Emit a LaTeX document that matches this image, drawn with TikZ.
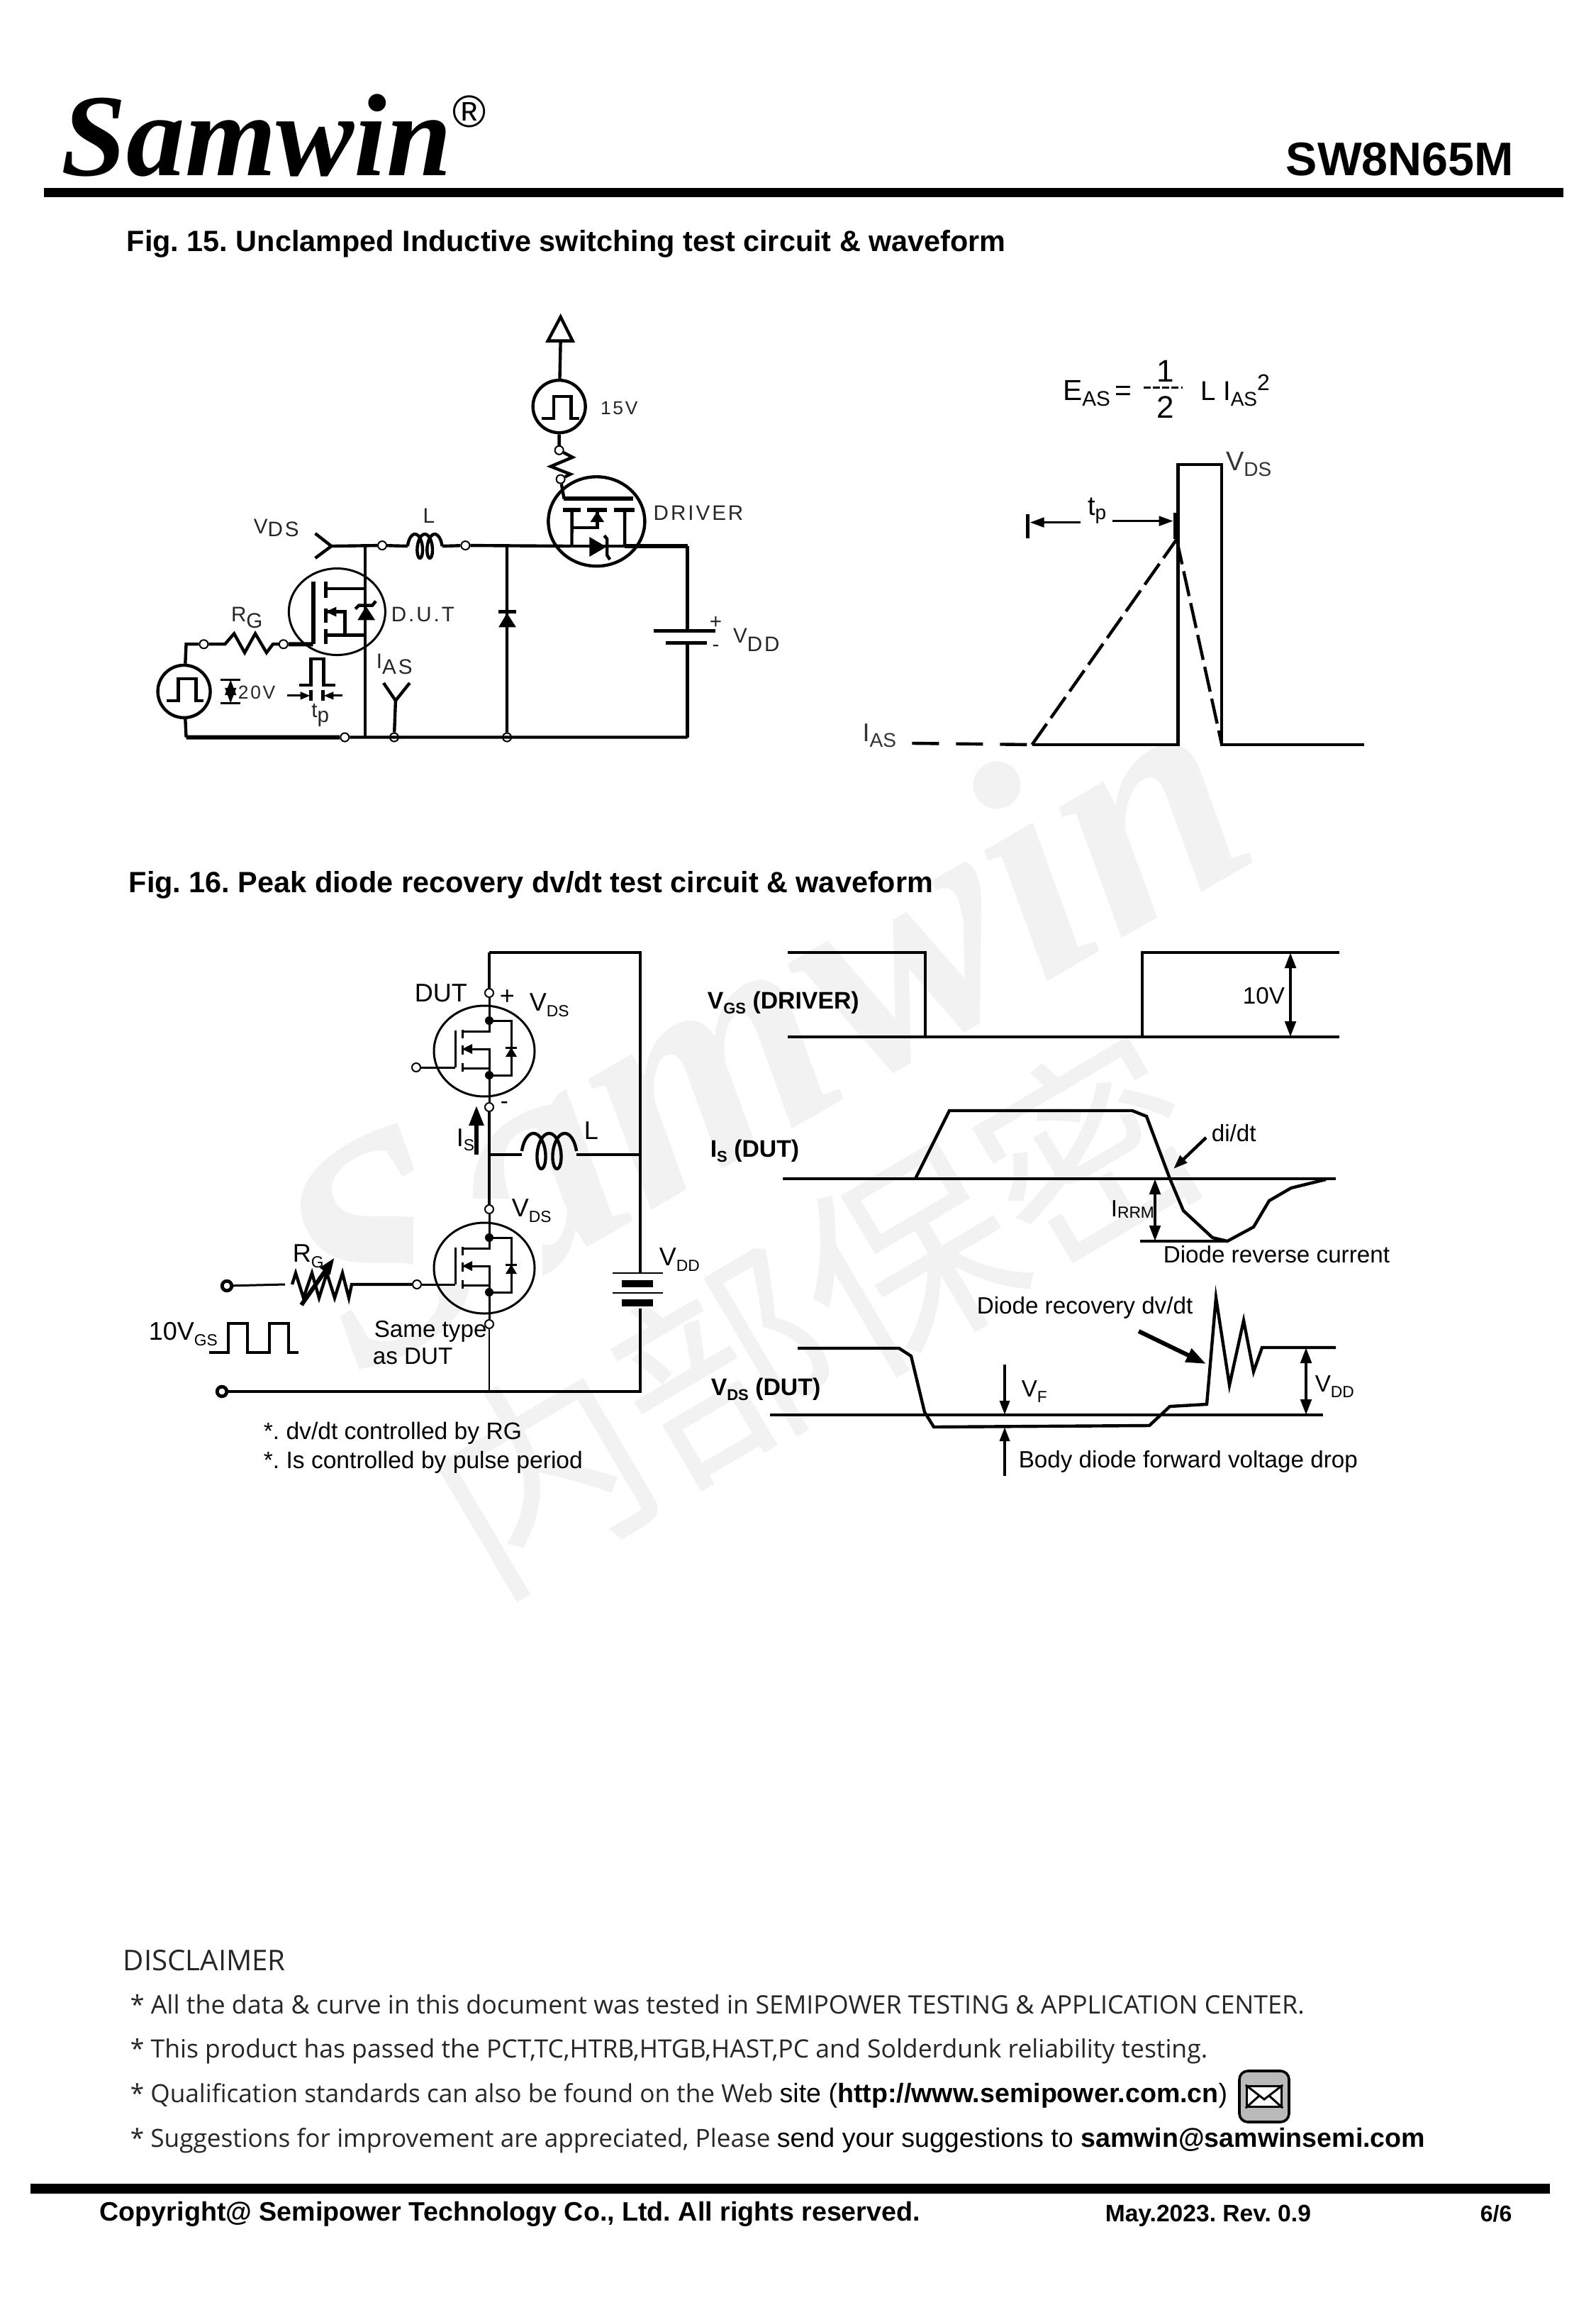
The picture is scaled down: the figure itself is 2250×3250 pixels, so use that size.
\documentclass[tikz,border=0pt]{standalone}
\usepackage{fontspec}
\setmainfont{Liberation Sans}
\newfontfamily\logofont{Liberation Serif}
\newfontfamily\discfont{Open Sans}
\newfontfamily\cjkfont{Noto Sans CJK SC}
\newfontfamily\widefont[LetterSpace=10]{Liberation Sans}
\usetikzlibrary{shapes.geometric, arrows.meta}
\frenchspacing
\newcommand{\fs}[1]{\fontsize{#1}{#1}\selectfont}
\newcommand{\vsub}[4]{#1{\fs{#2}\raisebox{-#3}{#4}}}
\tikzset{
    wire/.style={line width=1.1pt},
    thinwire/.style={line width=.75pt},
    heavywire/.style={line width=1.5pt},
    term/.style={circle, draw, fill=white, line width=.5pt, inner sep=0pt, minimum size=3pt},
    termbig/.style={circle, draw, fill=white, line width=1.2pt, inner sep=0pt, minimum size=3.4pt},
    txt/.style={anchor=base west, inner sep=0pt, font=\fs{8.3}},
    boldtxt/.style={anchor=base west, inner sep=0pt, font=\bfseries\fs{8.45}},
    cirtxt/.style={anchor=base west, inner sep=0pt, font=\widefont\fs{7.4}, text=black!85},
    disc/.style={anchor=base west, inner sep=0pt, text=black!85},
    tip/.style={-{Triangle[length=5pt,width=3.4pt]}, wire},
    bothtip/.style={{Triangle[length=5.5pt,width=3.8pt]}-{Triangle[length=5.5pt,width=3.8pt]}, wire},
    bigtip/.style={-{Triangle[length=7pt,width=5pt]}, line width=1.4pt},
    smalltip/.style={-{Triangle[length=3.5pt,width=2.6pt]}, thinwire},
}
\begin{document}
\begin{tikzpicture}[x=.25pt, y=-.25pt]
\useasboundingbox (0,0) rectangle (2250,3250);
\fill[white] (0,0) rectangle (2250,3250);

\node (wmlogo) [anchor=base west, inner sep=0pt, rotate=30, text=black!5, font=\logofont\bfseries\itshape\fs{111}] at (505,1945) {Samwin};
\node (wmcjk) [inner sep=0pt, rotate=30.5, text=black!5, font=\cjkfont\fs{75}] at (1150,1850) {内部保密};
\fill[white] (583,1690) rectangle (765,1810);

\node (logo) [anchor=base west, inner sep=0pt, font=\logofont\bfseries\itshape\fs{41.3}] at (86,248) {Samwin};
\node (regmark) [anchor=base west, inner sep=0pt, font=\fs{16}] at (638,180) {®};
\node (partno) [anchor=base west, inner sep=0pt, font=\bfseries\fs{16.6}] at (1813,248) {SW8N65M};
\fill (62,265) rectangle (2205,278);
\node (figa) [anchor=base west, inner sep=0pt, font=\bfseries\fs{10.35}] at (178,355) {Fig. 15. Unclamped Inductive switching test circuit \& waveform};
\node (figb) [anchor=base west, inner sep=0pt, font=\bfseries\fs{10.35}] at (181,1258) {Fig. 16. Peak diode recovery dv/dt test circuit \& waveform};

\begin{scope}[shift={(1,2.3)}, scale=.9945]
\coordinate (vin) at (469,772);
\coordinate (ja) at (517,772);
\coordinate (jd) at (718,772);
\coordinate (jr) at (974,772);
\coordinate (jsrc) at (810,772);
\coordinate (jdrn) at (885,772);
\coordinate (cla) at (577,772);
\coordinate (clb) at (626,772);
\node (ta) [term] at (541,771) {};
\node (tb) [term] at (659,771) {};
\node (tc) [term] at (288,911) {};
\node (td) [term] at (401,911) {};
\node (te) [term] at (488,1043) {};
\node (tf) [term] at (558,1043) {};
\node (tg) [term] at (718,1043) {};
\node (th) [term] at (792,636) {};
\node (ti) [term] at (794,677) {};
\coordinate (jb) at (517,1043);
\coordinate (cbl) at (263,1043);
\coordinate (cbr) at (974,1043);
\coordinate (cgl) at (263,911);
\coordinate (batp) at (974,892);
\coordinate (batn) at (974,909);

\node (srca) [circle, draw, wire, minimum size=18.5pt, inner sep=0pt] at (792,574) {};
\node (srcb) [circle, draw, wire, minimum size=18.5pt, inner sep=0pt] at (260,978) {};
\node (driver) [ellipse, draw, wire, minimum width=34pt, minimum height=31.5pt, inner sep=0pt] at (845,737) {};
\node (dut) [ellipse, draw, thinwire, minimum width=34pt, minimum height=30.5pt, inner sep=0pt] at (477,865) {};

\draw [wire] (vin) -- (ta) -- (cla);
\draw [wire] (clb) -- (tb) -- (jsrc);
\draw [heavywire] (jdrn) -- (jr);
\draw [wire] (jsrc) -- (jdrn);
\draw [wire] (jr) -- (batp);
\draw [wire] (batn) -- (cbr);
\draw [wire] (jd) -- (tg);
\draw [wire] (ja) -- (jb);
\draw [heavywire] (cbl) -- (te);
\draw [wire] (te) -- (cbr);
\draw [wire] (cbl) -- (srcb);
\draw [wire] (srcb) -- (cgl) -- (tc);
\draw [wire] (446,754) -- (vin) -- (446,789);
\draw [wire] plot[domain=-90:810, samples=90, smooth, variable=\t] ({587.5+\t/360*14+7*sin(\t)}, {772-17*cos(\t)});
\draw [wire] (tc) -- (318,911) -- (331,896) -- (346,923) -- (361,896) -- (377,923) -- (386,911) -- (td);
\draw [heavywire] (td) -- (443,911);
\draw [wire] (th) -- (811,646) -- (780,659) -- (808,670) -- (ti);
\draw [wire] (srca) -- (th);
\draw [wire] (794,481) -- (srca);
\draw [wire] (ti) -- (799,705);
\draw [wire, fill=white] (794,447) -- (811,481) -- (776,481) -- cycle;

\foreach \cx/\cy in {792/591, 260/991} {
    \draw [wire] (\cx-25,\cy) -- (\cx-8,\cy) -- (\cx-8,\cy-31) -- (\cx+17,\cy-31) -- (\cx+17,\cy) -- (\cx+28,\cy);
}

\draw [heavywire] (798,705) -- (897,705);
\draw [heavywire] (797,721) -- (823,721) (832,721) -- (860,721) (870,721) -- (899,721);
\draw [wire] (jsrc) -- (810,721) (jdrn) -- (885,721);
\draw [wire] (810,746) -- (846,746) -- (846,721);
\fill (846,723) -- (856,738) -- (836,738) -- cycle;
\fill (835,759) -- (835,787) -- (859,773) -- cycle;
\draw [wire] (856,757) -- (860,762) -- (860,785) -- (864,791);

\draw [heavywire] (443,822) -- (443,911);
\draw [wire] (461,822) -- (461,845) (461,860) -- (461,881) (461,890) -- (461,911);
\draw [wire] (461,832) -- (517,832) (461,898) -- (517,898);
\draw [wire] (461,865) -- (488,865) -- (488,898);
\fill (461,865) -- (476,858) -- (476,872) -- cycle;
\fill (518,857) -- (531,877) -- (506,877) -- cycle;
\draw [wire] (503,861) -- (508,856) -- (527,856) -- (532,850);

\fill (718,867) -- (731,887) -- (706,887) -- cycle;
\draw [wire] (706,865) -- (731,865);
\draw [wire] (926,892) -- (1014,892);
\draw [wire] (943,909) -- (1001,909);

\draw [bothtip, line width=.9pt] (326,961) -- (326,995);
\draw [thinwire] (312,961) -- (340,961) (312,995) -- (340,995);
\draw [wire] (423,969) -- (440,969) -- (440,932) -- (458,932) -- (458,969) -- (475,969);
\draw [smalltip] (406,984) -- (439,984);
\draw [smalltip] (485,984) -- (458,984);
\draw [wire] (440,976) -- (440,991) (457,976) -- (457,991);
\draw [wire] (543,966) -- (560,991) -- (580,966);
\draw [wire] (560,991) -- (tf);

\node (vdsa) [cirtxt] at (358,754) {\vsub{V}{7.4}{1.2pt}{DS}};
\node (lbla) [cirtxt] at (598,739) {L};
\node (rga) [cirtxt] at (326,879) {\vsub{R}{7.4}{2.2pt}{G}};
\node (duta) [cirtxt] at (553,879) {D.U.T};
\node (drv) [cirtxt] at (925,735) {DRIVER};
\node (volta) [cirtxt, font=\widefont\fs{6.6}] at (850,585) {15V};
\node (voltb) [cirtxt, font=\widefont\fs{6.6}] at (336,989) {20V};
\node (tpa) [cirtxt] at (440,1015) {t{\raisebox{-1.6pt}{p}}};
\node (iasa) [cirtxt] at (532,945) {\vsub{I}{7.4}{2pt}{AS}};
\node (plus) [cirtxt, anchor=center] at (1014,881) {+};
\node (minus) [cirtxt, anchor=center] at (1014,917) {-};
\node (vdda) [cirtxt] at (1038,909) {\vsub{V}{7.4}{3pt}{DD}};
\end{scope}

\begin{scope}[shift={(5.9,2.3)}, scale=.995]
\node (eqa) [txt, font=\fs{10.2}] at (1500,565) {\vsub{E}{7.4}{2pt}{AS}\,=};
\node (eqb) [txt, font=\fs{11}] at (1633,539) {1};
\node (eqc) [txt, font=\fs{11}] at (1633,590) {2};
\coordinate (barl) at (1615,547);
\coordinate (barr) at (1670,547);
\draw [thinwire, dash pattern=on 2.5pt off .8pt] (barl) -- (barr);
\node (eqd) [txt, font=\fs{9.6}] at (1695,565) {L};
\node (eqe) [txt, font=\fs{9.6}] at (1727,565) {\vsub{I}{7}{2pt}{AS}\raisebox{3.5pt}{\fs{8}2}};

\coordinate (wla) at (1457,1053);
\coordinate (wlb) at (1664,1053);
\coordinate (wlc) at (1664,656);
\coordinate (wld) at (1726,656);
\coordinate (wle) at (1726,1053);
\coordinate (wlf) at (1928,1053);
\coordinate (wpk) at (1662,762);
\coordinate (wia) at (1287,1051);
\draw [wire, line join=miter] (wla) -- (wlb) -- (wlc) -- (wld) -- (wle) -- (wlf);
\draw [wire, dash pattern=on 9.5pt off 6pt] (wia) -- (wla);
\draw [wire, dash pattern=on 9pt off 2.5pt] (wla) -- (wpk);
\draw [wire, dash pattern=on 9pt off 2.5pt] (wpk) -- (wle);
\draw [wire] (1451,726) -- (1451,761);
\draw [heavywire] (1660,724) -- (1660,762);
\draw [tip, line width=.8pt] (1526,738) -- (1454,738);
\draw [tip, line width=.8pt] (1571,736) -- (1657,736);
\node (tpb) [txt, font=\fs{9.5}] at (1535,728) {t{\fs{7}\raisebox{-1.5pt}{p}}};
\node (vdsb) [txt, font=\fs{9.5}, text=black!80] at (1731,665) {\vsub{V}{7}{2pt}{DS}};
\node (iasb) [txt, font=\fs{9}, text=black!80] at (1216,1048) {\vsub{I}{7}{2pt}{AS}};
\end{scope}

\coordinate (cta) at (690,1343);
\coordinate (ctb) at (903,1343);
\coordinate (cmj) at (690,1628);
\coordinate (cmr) at (903,1628);
\coordinate (cla2) at (736,1628);
\coordinate (clb2) at (813,1628);
\coordinate (cbat) at (903,1795);
\coordinate (cbbt) at (903,1845);
\coordinate (cbr2) at (903,1962);
\coordinate (cbj) at (690,1962);
\node (dra) [term] at (690,1400) {};
\node (sra) [term] at (690,1561) {};
\node (drb) [term] at (690,1705) {};
\node (srb) [term] at (690,1867) {};
\node (gta) [term] at (587,1505) {};
\node (gtb) [term] at (588,1811) {};
\node (inp) [termbig] at (320,1813) {};
\node (gnd) [termbig] at (313,1962) {};

\draw [wire] (cta) -- (ctb) -- (cmr) -- (cbat);
\draw [wire] (cbbt) -- (cbr2) -- (gnd);
\draw [wire] (cta) -- (dra);
\draw [wire] (sra) -- (cmj) -- (drb);
\draw [wire] (cmj) -- (cla2);
\draw [wire] (clb2) -- (cmr);
\draw [line width=.4pt] (srb) -- (cbj);
\draw [wire] plot[domain=-90:810, samples=90, smooth, variable=\t] ({752.5+\t/360*22+11*sin(\t)}, {1623-25*cos(\t)});

\foreach \n/\cy in {a/1482, b/1788} {
\begin{scope}[shift={(683,\cy)}]
    \node (mos\n) [ellipse, draw, thinwire, minimum width=35.5pt, minimum height=32pt, inner sep=0pt] at (0,0) {};
    \draw [thinwire] (gt\n) -- (-41,23);
    \draw [thinwire] (-41,-29) -- (-41,23);
    \draw [thinwire] (-31,-30) -- (-31,-18) (-31,-8) -- (-31,5) (-31,17) -- (-31,29);
    \draw [thinwire] (-31,-28) -- (7,-28) -- (dr\n);
    \draw [thinwire] (-31,-3) -- (7,-3) -- (sr\n);
    \draw [thinwire] (-31,24) -- (7,24);
    \draw [thinwire] (7,-43) -- (38,-43) -- (38,34) -- (7,34);
    \fill (-31,-3) -- (-17,-10) -- (-17,4) -- cycle;
    \fill (38,-5) -- (46,8) -- (30,8) -- cycle;
    \draw [thinwire] (30,-5) -- (46,-5);
    \fill (7,-43) circle (6);
    \fill (7,34) circle (6);
\end{scope}
}

\draw [thinwire] (inp) -- (402,1811);
\draw [wire] (412,1811) -- (417,1795) -- (428,1830) -- (440,1795) -- (450,1830) -- (461,1795) -- (472,1830) -- (483,1795) -- (492,1830) -- (496,1811) -- (gtb);
\draw [heavywire, -{Triangle[length=6pt,width=4pt]}] (425,1840) -- (472,1773);
\draw [wire] (295,1907) -- (322,1907) -- (322,1866) -- (349,1866) -- (349,1907) -- (380,1907) -- (380,1866) -- (407,1866) -- (407,1907) -- (421,1907);
\draw [bigtip] (672,1628) -- (672,1559);
\draw [line width=.4pt] (864,1795) -- (935,1795) (864,1823) -- (935,1823);
\fill (877,1805) rectangle (921,1815);
\fill (877,1832) rectangle (921,1842);

\node (dutl) [txt, font=\fs{9}] at (584,1412) {DUT};
\node (pl) [txt, font=\fs{9}] at (704,1416) {+};
\node (mi) [txt] at (705,1563) {-};
\node (vdsc) [txt, font=\fs{9}] at (746,1425) {\vsub{V}{5.7}{2pt}{DS}};
\node (vdsd) [txt, font=\fs{9}] at (721,1715) {\vsub{V}{5.7}{2pt}{DS}};
\node (isl) [txt, font=\fs{9}] at (643,1616) {\vsub{I}{5.7}{1.5pt}{S}};
\node (ll) [txt, font=\fs{9}] at (823,1606) {L};
\node (rgl) [txt, font=\fs{9}] at (412,1779) {\vsub{R}{5.7}{2pt}{G}};
\node (vddc) [txt, font=\fs{9}] at (929,1784) {\vsub{V}{5.7}{2pt}{DD}};
\node (vgsc) [txt, font=\fs{9}] at (209,1889) {\vsub{10V}{5.7}{2pt}{GS}};
\node (same) [txt] at (527,1885) {Same type};
\node (asd) [txt] at (525,1923) {as DUT};
\node (notea) [txt, font=\fs{8.4}] at (371,2029) {*. dv/dt controlled by RG};
\node (noteb) [txt, font=\fs{8.4}] at (371,2070) {*. Is controlled by pulse period};

\coordinate (gha) at (1111,1343);
\coordinate (ghb) at (1305,1343);
\coordinate (glb) at (1305,1462);
\coordinate (gla) at (1111,1462);
\coordinate (glc) at (1611,1462);
\coordinate (ghc) at (1611,1343);
\coordinate (ghd) at (1889,1343);
\coordinate (gle) at (1889,1462);
\coordinate (gaa) at (1820,1343);
\coordinate (gab) at (1820,1462);
\draw [wire] (gha) -- (ghb) -- (glb);
\draw [wire] (gla) -- (gle);
\draw [wire] (glc) -- (ghc) -- (ghd);
\draw [bothtip] (gaa) -- (gab);
\node (vgsl) [boldtxt] at (997,1422) {\vsub{V}{5.5}{1.8pt}{GS} (DRIVER)};
\node (tenv) [txt] at (1752,1415) {10V};

\coordinate (iaa) at (1104,1662);
\coordinate (iab) at (1884,1662);
\coordinate (ira) at (1629,1662);
\coordinate (irb) at (1629,1750);
\coordinate (irl) at (1608,1750);
\coordinate (irr) at (1731,1750);
\draw [wire] (iaa) -- (iab);
\draw [wire] (1291,1662) -- (1339,1566) -- (1597,1566) -- (1617,1574) -- (1650,1662) -- (1669,1707) -- (1710,1745) -- (irr) -- (1768,1730) -- (1790,1693) -- (1821,1675) -- (1870,1663);
\draw [wire] (irl) -- (irr);
\draw [bothtip] (ira) -- (irb);
\draw [tip] (1701,1604) -- (1655,1648);
\node (isd) [boldtxt] at (1001,1631) {\vsub{I}{5.5}{1.8pt}{S} (DUT)};
\node (didt) [txt] at (1708,1609) {di/dt};
\node (irrm) [txt] at (1566,1715) {\vsub{I}{5.7}{.5pt}{RRM}};
\node (drc) [txt] at (1640,1780) {Diode reverse current};

\coordinate (vaa) at (1086,1995);
\coordinate (vab) at (1866,1995);
\coordinate (vfa) at (1417,1924);
\coordinate (vfb) at (1417,1995);
\coordinate (vfc) at (1417,2081);
\coordinate (vfd) at (1417,2012);
\coordinate (vda) at (1842,1900);
\coordinate (vdb) at (1842,1995);
\draw [wire] (vaa) -- (vab);
\draw [wire] (1125,1901) -- (1268,1901) -- (1285,1912) -- (1304,1991) -- (1317,2012) -- (1621,2010) -- (1650,1983) -- (1702,1980) -- (1715,1830) -- (1734,1953) -- (1754,1862) -- (1768,1934) -- (1780,1900) -- (1884,1900);
\draw [tip] (vfa) -- (vfb);
\draw [tip] (vfc) -- (vfd);
\draw [bothtip] (vda) -- (vdb);
\draw [heavywire, -{Triangle[length=7pt,width=5pt]}] (1606,1877) -- (1701,1923);
\node (vdsl) [boldtxt] at (1002,1967) {\vsub{V}{5.5}{1.8pt}{DS} (DUT)};
\node (vfl) [txt] at (1440,1969) {\vsub{V}{5.7}{2pt}{F}};
\node (vddl) [txt] at (1854,1962) {\vsub{V}{5.7}{2pt}{DD}};
\node (drd) [txt] at (1377,1852) {Diode recovery dv/dt};
\node (bdy) [txt] at (1436,2069) {Body diode forward voltage drop};

\node (dish) [disc, font=\discfont\fs{10.05}] at (173,2778) {DISCLAIMER};
\node (disa) [disc, font=\discfont\fs{8.95}] at (183,2839) {* All the data \& curve in this document was tested in SEMIPOWER TESTING \& APPLICATION CENTER.};
\node (disb) [disc, font=\discfont\fs{8.88}] at (183,2901) {* This product has passed the PCT,TC,HTRB,HTGB,HAST,PC and Solderdunk reliability testing.};
\node (disc1) [disc, font=\discfont\fs{8.8}] at (183,2964) {* Qualification standards can also be found on the Web\ {\rmfamily\fs{9.4}\color{black}site (\textbf{http://www.semipower.com.cn})}};
\node (disd) [disc, font=\discfont\fs{8.8}] at (183,3027) {* Suggestions for improvement are appreciated, Please\ {\rmfamily\fs{9.4}\color{black}send your suggestions to \textbf{samwin@samwinsemi.com}}};

\node (mail) [draw, rounded corners=3pt, fill=black!27, line width=.9pt, minimum width=17.5pt, minimum height=18pt, inner sep=0pt] at (1783,2956) {};
\node (envl) [draw, fill=white, line width=.9pt, minimum width=12.2pt, minimum height=7.2pt, inner sep=0pt] at (1783,2956) {};
\coordinate (envm) at (1783,2960);
\draw [thinwire] (envl.north west) -- (envm) -- (envl.north east);
\draw [thinwire] (envl.south west) -- (1776,2955) (envl.south east) -- (1790,2955);

\fill (43,3079) rectangle (2186,3093);
\node (copy) [anchor=base west, inner sep=0pt, font=\bfseries\fs{9.41}] at (140,3131) {Copyright@ Semipower Technology Co., Ltd. All rights reserved.};
\node (rev) [anchor=base west, inner sep=0pt, font=\bfseries\fs{8.4}] at (1558,3132) {May.2023. Rev. 0.9};
\node (page) [anchor=base west, inner sep=0pt, font=\bfseries\fs{8}] at (2087,3132) {6/6};
\end{tikzpicture}
\end{document}
